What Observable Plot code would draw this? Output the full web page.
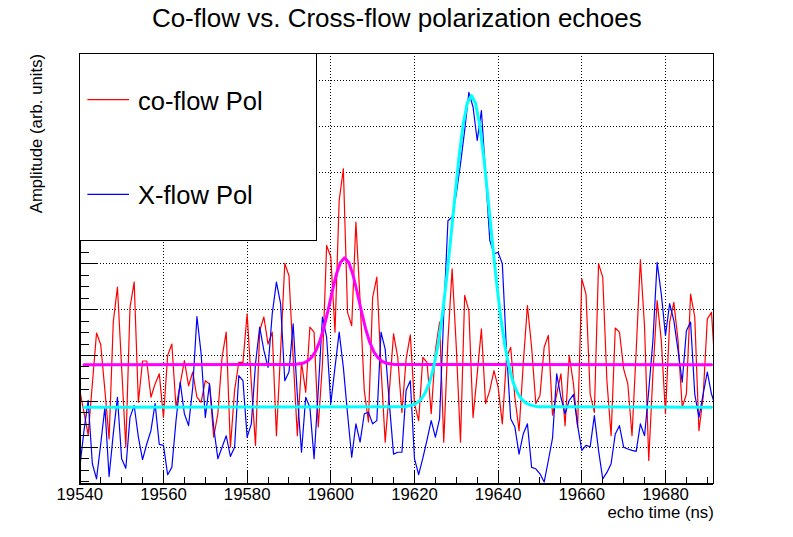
<!DOCTYPE html>
<html>
<head>
<meta charset="utf-8">
<script src="https://cdn.jsdelivr.net/npm/d3@7"></script>
<script src="https://cdn.jsdelivr.net/npm/@observablehq/plot@0.6"></script>
<style>
  html, body { margin: 0; padding: 0; background: #fff; }
  #wrap { position: relative; width: 793px; height: 537px; overflow: hidden; }
  #legend { position: absolute; left: 79.3px; top: 52.7px; }
  #legend text { font-family: "Liberation Sans", Arial, Helvetica, sans-serif; font-size: 25.5px; fill: #000; }
</style>
</head>
<body>
<div id="wrap">
  <div id="chart"></div>
  <svg id="legend" width="238" height="188" viewBox="0 0 238 188">
    <rect x="0.5" y="0.5" width="236.7" height="187" fill="#fff" stroke="#000" stroke-width="1" shape-rendering="crispEdges"></rect>
    <line x1="8.4" x2="50" y1="46.6" y2="46.6" stroke="#ff0000" stroke-width="1.2"></line>
    <text x="59" y="57.3">co-flow Pol</text>
    <line x1="8.4" x2="50" y1="141.3" y2="141.3" stroke="#0000ff" stroke-width="1.2"></line>
    <text x="59" y="151.3">X-flow Pol</text>
  </svg>
</div>
<script>
// ---- data ----
const titleText = "Co-flow vs. Cross-flow polarization echoes";
const xTitle = "echo time (ns)";
const yTitle = "Amplitude (arb. units)";

const startTime = 19540; // ns, first sample; samples every 1 ns

const coFlowPol = [
  22.4,17.6,12.7,23.8,34.9,32.4,22.4,11.8,37.3,44.9,
  27.4,10,40.5,46,19.8,28.8,28.8,20.9,23.8,26,
  16.5,30,32.5,18.7,23.8,28.9,23.4,26.4,20.9,19.8,
  24.5,23.8,12.2,17.3,29.6,35.1,10,22.4,28.5,28.5,
  39.1,24,10.4,35.4,38.4,32.5,35.1,12.5,31,50.1,
  47.4,29.6,12.5,28.5,22,36.2,35.1,14.4,28.2,54,
  51.5,35.1,63.8,70.7,39.4,36.5,59.1,42,22.4,15.5,
  42.7,47.1,27.4,11.1,22.4,34.7,29.6,17.6,29.2,34.5,
  19.5,15.8,29.6,28.5,17.3,31.1,37.3,11.1,33.3,48.9,
  31.8,11.1,43.1,39.8,16.5,26,35.8,19.5,22.4,26.7,
  23.1,15.1,29.6,31.8,20.9,13.6,28.2,40.9,31.8,19.5,
  21.3,31.8,34.4,17,21.6,26,14.7,30,23.8,14.4,
  46.7,43.4,21.6,17.6,50,47.1,24.5,12.5,36,35.1,
  27.1,23.8,12.5,31.1,50.9,36.2,7.1,26,42,33.3,
  17.3,37.3,41.6,33.3,18.7,21.6,43.4,38.4,13.6,20.9,
  38,39.4,25
];

const xFlowPol = [
  5.6,13.6,20.2,6.4,3.1,10.7,18.7,3.6,12.9,20.9,
  7.5,5.4,16.5,19.1,12.2,7.3,10.7,13.6,19.5,10.6,
  10.4,4,5.6,15.8,24.2,17.3,14.7,23.1,38.5,30.4,
  16.5,23.8,14.4,7.5,10,12.5,8,10,25.6,24.5,
  12.2,15.1,28.2,36.2,31.1,27.4,39.1,46,41.3,24.5,
  26.4,36.9,21.3,8.9,20.9,18.7,7.5,22.4,38.4,34,
  19.5,27.4,35.1,27.4,17.3,7.8,15.1,11.1,17.3,17.6,
  15.1,15.8,35.1,31.4,19.5,8.5,8.9,8.9,22.4,24.5,
  7.5,4,7.6,11.6,15.8,12.2,16.2,39.1,59.4,60.2,
  65.3,71.8,79.1,87.4,84.2,76.9,83.4,69.6,55.1,52.2,
  52.5,50,31.1,16.2,14.4,8.5,12.9,15.1,5.6,5.3,
  4.2,2.4,7.1,12,26,20.9,17.3,20.2,21.5,14.7,
  9.3,10.4,10.1,16.9,9.3,3.1,4.5,6.4,12.9,14.7,
  10,9.6,9.3,9.1,15.1,12.5,22.4,33.3,50.3,43.4,
  34.4,41.3,37.6,31.1,24.2,35.4,37.3,21.6,16.5,21.6,
  26.4,21.6,18.7
];

// fitted curves
const coFitTime = [19541,19591.3,19593.3,19594.3,19595.3,19596.3,19597.3,19598.3,19599.3,19600.3,19601.3,19602.3,19603.3,
  19604.3,19605.3,19606.3,19607.3,19608.3,19609.3,19610.3,19611.3,19612.3,19613.3,19615.3,19691];
const coFitValue = [28,28.05,28.3,28.7,29.5,30.8,32.9,35.9,39.7,43.8,47.6,50.3,51.3,
  50.3,47.6,43.8,39.7,35.9,32.9,30.8,29.5,28.7,28.3,28.05,28];

const xFitTime = [19541,19617.6,19619.6,19620.6,19621.6,19622.6,19623.6,19624.6,19625.6,19626.6,19627.6,19628.6,19629.6,
  19630.6,19631.6,19632.6,19633.6,19634.6,19635.6,19636.6,19637.6,19638.6,19639.6,19640.6,19641.6,19642.6,
  19643.6,19644.6,19645.6,19646.6,19647.6,19649.6,19691];
const xFitValue = [18.7,18.8,19.2,19.65,20.5,21.9,24.1,27.5,32.2,38.4,46.1,54.9,64.1,
  72.9,80.2,85.0,86.7,85.0,80.2,72.9,64.1,54.9,46.1,38.4,32.2,27.5,
  24.1,21.9,20.5,19.65,19.2,18.8,18.7];

// axes
const xLabelTicks = [19540,19560,19580,19600,19620,19640,19660,19680];
const xGridTicks = [19560,19580,19600,19620,19640,19660,19680];
const xMinorTicks = [19545,19550,19555,19565,19570,19575,19585,19590,19595,19605,19610,19615,
  19625,19630,19635,19645,19650,19655,19665,19670,19675,19685,19690];
const yMajorTicks = [10,20,30,40,50,60,70,80,90];
const yMinorTicks = [2.5,5,7.5,12.5,15,17.5,22.5,25,27.5,32.5,35,37.5,42.5,45,47.5,52.5,55,57.5,
  62.5,65,67.5,72.5,75,77.5,82.5,85,87.5,92.5,95];

const xDomain = [19540, 19691.55];
const yDomain = [2.02, 95.93];

// ---- build tables ----
const coTable = coFlowPol.map((v, i) => ({t: startTime + i, v}));
const xTable = xFlowPol.map((v, i) => ({t: startTime + i, v}));
const coFit = coFitTime.map((t, i) => ({t, v: coFitValue[i]}));
const xFit = xFitTime.map((t, i) => ({t, v: xFitValue[i]}));

const W = 793, H = 537;
const mL = 79.3, mR = 79.7, mT = 52.7, mB = 53.7;
const PW = W - mL - mR, PH = H - mT - mB;
const dotted = "1,2";
const crisp = {shapeRendering: "crispEdges"};
const font = "'Liberation Sans', Arial, Helvetica, sans-serif";

const chart = Plot.plot({
  width: W, height: H,
  marginLeft: mL, marginRight: mR, marginTop: mT, marginBottom: mB,
  x: {domain: xDomain, axis: null},
  y: {domain: yDomain, axis: null},
  style: {fontFamily: font, background: "white", overflow: "visible"},
  marks: [
    Plot.ruleX(xGridTicks, {x: d => d, stroke: "black", strokeWidth: 1, strokeDasharray: dotted, ...crisp}),
    Plot.ruleY(yMajorTicks, {y: d => d, stroke: "black", strokeWidth: 1, strokeDasharray: dotted, ...crisp}),
    Plot.line(coTable, {x: "t", y: "v", stroke: "#ff0000", strokeWidth: 1.2, clip: true}),
    Plot.line(xTable, {x: "t", y: "v", stroke: "#0000ff", strokeWidth: 1.2, clip: true}),
    Plot.line(coFit, {x: "t", y: "v", stroke: "#ff00ff", strokeWidth: 3, clip: true}),
    Plot.line(xFit, {x: "t", y: "v", stroke: "#00ffff", strokeWidth: 3, clip: true}),
    Plot.tickX(xMinorTicks, {x: d => d, stroke: "black", strokeWidth: 1, insetTop: PH - 6.5, ...crisp}),
    Plot.tickX(xLabelTicks, {x: d => d, stroke: "black", strokeWidth: 1, insetTop: PH - 12.7, ...crisp}),
    Plot.tickY(yMinorTicks, {y: d => d, stroke: "black", strokeWidth: 1, insetRight: PW - 9.3, ...crisp}),
    Plot.tickY(yMajorTicks, {y: d => d, stroke: "black", strokeWidth: 1, insetRight: PW - 18.7, ...crisp}),
    Plot.frame({stroke: "black", strokeWidth: 1, ...crisp}),
    Plot.ruleY([yDomain[0]], {stroke: "black", strokeWidth: 2, ...crisp}),
    Plot.ruleX([xDomain[0]], {stroke: "black", strokeWidth: 2, ...crisp}),
    Plot.text(xLabelTicks, {x: d => d, text: d => String(d), frameAnchor: "bottom", lineAnchor: "top",
      dy: 4.7, fontSize: 16.8, fill: "black"}),
    Plot.text([xTitle], {text: d => d, frameAnchor: "bottom-right", textAnchor: "end", lineAnchor: "bottom",
      dy: 34, fontSize: 16.8, fill: "black"}),
    Plot.text([yTitle], {text: d => d, frameAnchor: "top-left", rotate: -90, textAnchor: "end", lineAnchor: "bottom",
      dx: -37.6, dy: 0.6, fontSize: 16.8, fill: "black"}),
    Plot.text([titleText], {text: d => d, frameAnchor: "top", lineAnchor: "bottom",
      dy: -26, fontSize: 26, fill: "black"})
  ]
});
document.getElementById("chart").appendChild(chart);
</script>
</body>
</html>
